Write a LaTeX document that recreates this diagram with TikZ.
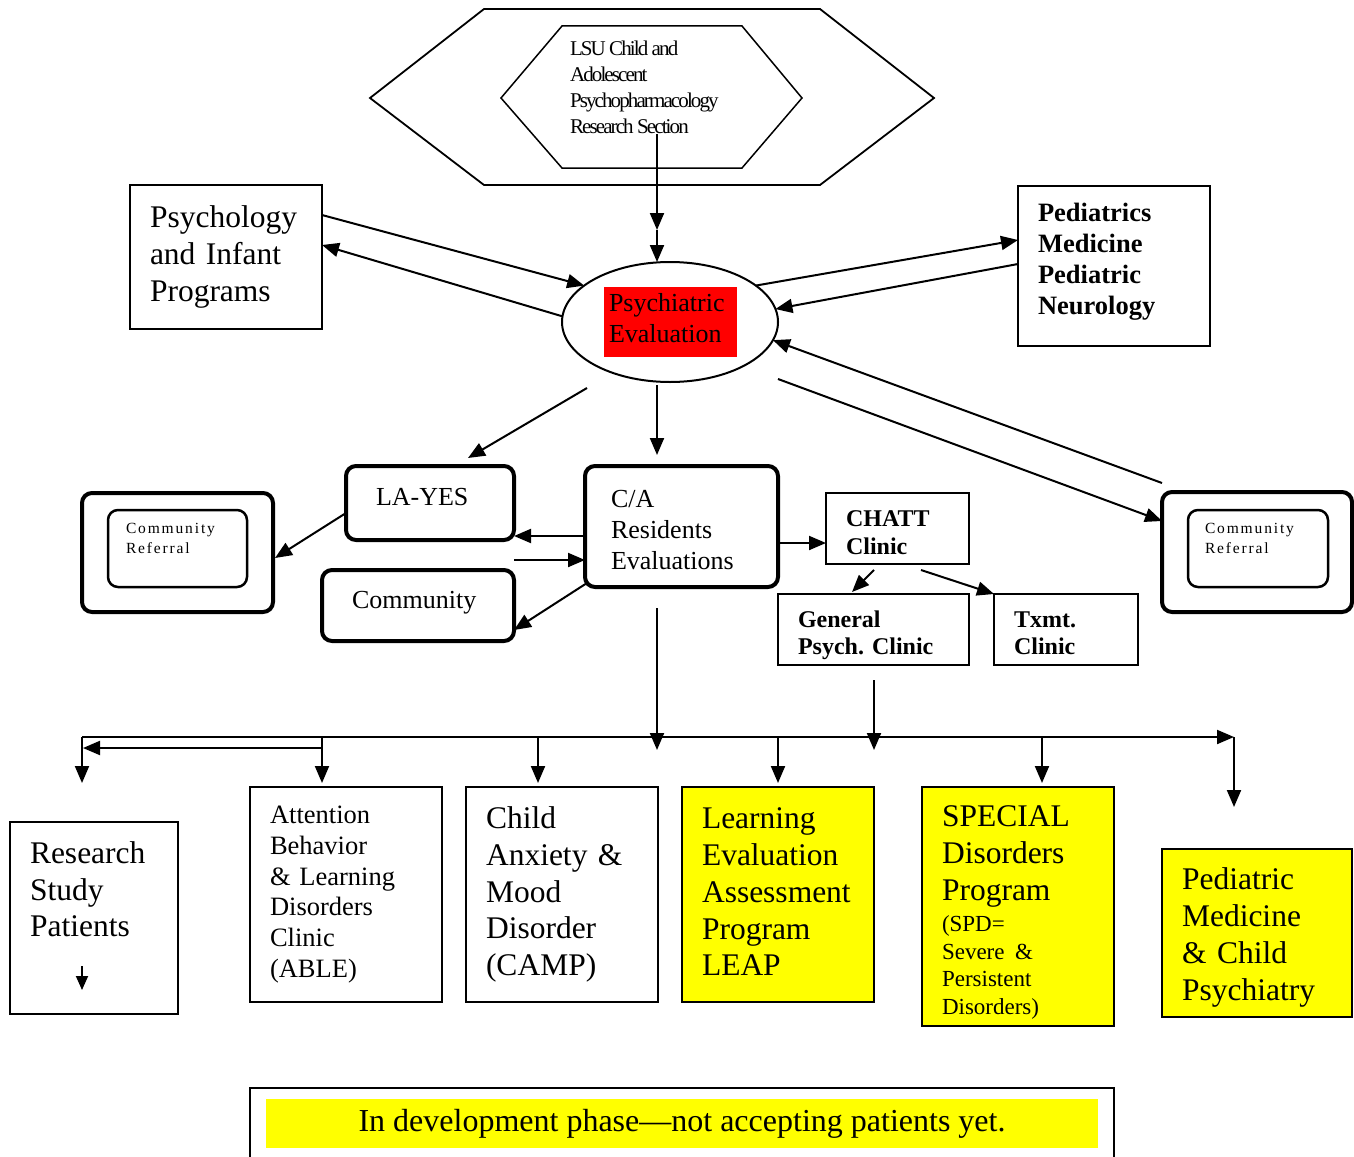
\documentclass[tikz,border=0pt]{standalone}
\usepackage{fontspec}
\setmainfont{Liberation Serif}
\newfontfamily\spacedfont[LetterSpace=12]{Liberation Serif}
\newfontfamily\tightfont[LetterSpace=-9]{Liberation Serif}
\usetikzlibrary{arrows.meta,calc,shapes.geometric}
\newcommand{\fsz}[2]{\fontsize{#1}{#2}\selectfont}
\definecolor{yel}{RGB}{255,255,0}
\definecolor{rd}{RGB}{255,0,0}
\frenchspacing
\begin{document}
\begin{tikzpicture}[x=1pt,y=-1pt,
  every node/.style={outer sep=0pt},
  conn/.style={line width=2pt},
  arr/.style={conn,-{Triangle[length=17pt,width=14pt]}},
  box/.style={draw,line width=2pt,rectangle,align=left,inner ysep=0pt},
  rbox/.style={draw,line width=4pt,rounded corners=10pt,align=left,inner ysep=0pt},
  ibox/.style={draw,line width=2.5pt,rounded corners=10pt,align=left,inner ysep=0pt},
  ybox/.style={box,fill=yel}]
\useasboundingbox (0,0) rectangle (1354,1156);
\fill[white] (0,0) rectangle (1354,1156);

% top hexagons
\draw[line width=1.8pt] (370,98) -- (484,9) -- (820,9) -- (934,98) -- (820,185) -- (484,185) -- cycle;
\draw[line width=1.5pt] (501,98) -- (562,26) -- (742,26) -- (802,98) -- (742,168) -- (562,168) -- cycle;
\node[anchor=north west,inner sep=0pt,align=left,font={\tightfont\fsz{21}{26}}] (lsu) at (570,41)
  {LSU Child and\\Adolescent\\Psychopharmacology\\Research Section};

% psychiatric evaluation
\node[ellipse,draw,line width=2pt,minimum width=216pt,minimum height=120pt,inner sep=0pt] (pe) at (670,322) {};
\node[fill=rd,minimum height=70pt,text width=123pt,inner xsep=5pt,inner ysep=0pt,align=left,text depth=40pt,font={\fsz{26}{31}}] (petext) at (670.5,322)
  {Psychiatric\\Evaluation};

% side boxes
\node[box,text width=152pt,inner xsep=20pt,minimum height=144pt,font={\fsz{31.5}{37}}] (psy) at (226,257)
  {Psychology\\and Infant\\Programs};
\node[box,text width=152pt,inner xsep=20pt,minimum height=160pt,text depth=107.7pt,font={\fsz{26.5}{31}\bfseries}] (ped) at (1114,266)
  {Pediatrics\\Medicine\\Pediatric\\Neurology};

% middle row
\node[rbox,text width=108pt,inner xsep=30pt,minimum height=74pt,text depth=12pt,font={\fsz{26}{31}}] (layes) at (430,503) {LA-YES};
\node[rbox,text width=141pt,inner xsep=26pt,minimum height=121pt,text depth=56pt,font={\fsz{26}{31}}] (ca) at (681.5,526.5)
  {C/A\\Residents\\Evaluations};
\node[rbox,text width=132pt,inner xsep=30pt,minimum height=71pt,text depth=11.6pt,font={\fsz{26}{31}}] (comm) at (418,605.5) {Community};

\node[rbox,minimum width=191pt,minimum height=119pt] (crl) at (177.5,552.5) {};
\node[ibox,text width=103pt,inner xsep=18pt,minimum height=77pt,font={\spacedfont\fsz{15.5}{20}}] (crli) at (177.5,548.5)
  {Community\\Referral\\~};
\node[rbox,minimum width=190pt,minimum height=120pt] (crr) at (1257,552) {};
\node[ibox,text width=106pt,inner xsep=17pt,minimum height=77pt,font={\spacedfont\fsz{15.5}{20}}] (crri) at (1258,548.5)
  {Community\\Referral\\~};

\node[box,text width=103pt,inner xsep=20pt,minimum height=71pt,text depth=20pt,font={\fsz{24}{28}\bfseries}] (chatt) at (897.5,528.5)
  {CHATT\\Clinic};
\node[box,text width=151pt,inner xsep=20pt,minimum height=71pt,text depth=21pt,font={\fsz{24}{27}\bfseries}] (gen) at (873.5,629.5)
  {General\\Psych. Clinic};
\node[box,text width=104pt,inner xsep=20pt,minimum height=71pt,text depth=20pt,font={\fsz{24}{27}\bfseries}] (txmt) at (1066,629.5)
  {Txmt.\\Clinic};

% bottom boxes
\node[box,text width=128pt,inner xsep=20pt,minimum height=192pt,font={\fsz{31.5}{36.5}}] (res) at (94,918)
  {Research\\Study\\Patients\\[21pt]~};
\node[box,text width=152pt,inner xsep=20pt,minimum height=215pt,font={\fsz{26.5}{30.8}}] (able) at (346,894.5)
  {Attention\\Behavior\\\& Learning\\Disorders\\Clinic\\(ABLE)};
\node[box,text width=152pt,inner xsep=20pt,minimum height=215pt,font={\fsz{31.5}{36.75}}] (camp) at (562,894.5)
  {Child\\Anxiety \&\\Mood\\Disorder\\(CAMP)};
\node[ybox,text width=152pt,inner xsep=20pt,minimum height=215pt,text depth=152pt,font={\fsz{31.5}{36.75}}] (leap) at (778,894.5)
  {Learning\\Evaluation\\Assessment\\Program\\LEAP};
\node[ybox,text width=152pt,inner xsep=20pt,minimum height=239pt,font={\fsz{31.5}{36.75}}] (spd) at (1018,906.5)
  {\rule{0pt}{33pt}SPECIAL\\Disorders\\Program\par\vspace{4pt}\fsz{23}{27.5}(SPD=\\Severe \&\\Persistent\\Disorders)\par};
\node[ybox,text width=150pt,inner xsep=20pt,minimum height=168pt,text depth=108pt,font={\fsz{31.5}{36.7}}] (pmc) at (1257,933)
  {Pediatric\\Medicine\\\& Child\\Psychiatry};

% legend
\node[draw,line width=2pt,anchor=north west,minimum width=864pt,minimum height=74pt,inner sep=0pt] (legbox) at (250,1088) {};
\node[fill=yel,minimum width=832pt,minimum height=49pt,inner sep=0pt,font={\fsz{32}{36}}] (leg) at (682,1123.5)
  {In development phase—not accepting patients yet.};

% connectors: top
\coordinate (m1) at (657,230);
\draw[arr] (m1 |- lsu.south) -- (m1);
\draw[arr] (m1) -- (m1 |- pe.north);
\draw[arr] ($(psy.north east)+(0,30)$) -- (pe.157);
\draw[arr] (pe.177) -- ($(psy.north east)+(0,60)$);
\draw[arr] (pe.23) -- ($(ped.north west)+(0,54)$);
\draw[arr] ($(ped.north west)+(0,78)$) -- (pe.7);
\draw[arr] ($(crr.north west)+(0,-9)$) -- (pe.-10);
\draw[arr] ($(pe.east)+(0,57)$) -- ($(crr.north west)+(0,29)$);
\draw[arr] ($(pe.south)+(-83,6)$) -- ($(layes.north west)+(122,-8)$);
\draw[arr] ($(pe.south)+(-13,3)$) -- ($(ca.north west)+(72,-11)$);

% connectors: middle
\draw[arr] ($(layes.west)+(0,10)$) -- ($(crl.east)+(2,5.5)$);
\draw[arr] ($(ca.west)+(0,9.5)$) -- ($(layes.south east)+(0,-4)$);
\draw[arr] ($(comm.north east)+(0,-10)$) -- ($(ca.west)+(0,33.5)$);
\draw[arr] ($(ca.south west)+(2,-4)$) -- ($(comm.south east)+(0,-11)$);
\draw[arr] ($(ca.east)+(0,16.5)$) -- ($(chatt.west)+(0,14.5)$);
\draw[arr] ($(chatt.south west)+(48,6)$) -- ($(gen.north west)+(74,-2)$);
\draw[arr] ($(chatt.south west)+(95,6)$) -- (txmt.north west);

% bus
\coordinate (bl) at (82,737);
\coordinate (br) at (1234,737);
\coordinate (b2) at (322,737);
\coordinate (b2l) at (322,748);
\draw[arr] (bl) -- (br);
\draw[arr] (br) -- ($(pmc.north west)+(72,-42)$);
\draw[arr] (bl) -- ($(res.north west)+(72,-39)$);
\draw[arr] (b2) -- ($(able.north west)+(72,-4)$);
\draw[arr] (b2l) -- ($(b2l -| bl)+(1,0)$);
\draw[arr] ($(camp.north west)+(72,-50)$) -- ($(camp.north west)+(72,-4)$);
\draw[arr] ($(leap.north west)+(96,-50)$) -- ($(leap.north west)+(96,-4)$);
\draw[arr] ($(spd.north west)+(120,-50)$) -- ($(spd.north west)+(120,-4)$);
\draw[arr] ($(ca.south west)+(72,21)$) -- ($(ca.south west)+(72,163)$);
\draw[arr] ($(gen.south west)+(96,15)$) -- ($(gen.south west)+(96,85)$);

% small arrow in research box
\coordinate (ra1) at (82,966);
\coordinate (ra2) at (82,990);
\draw[line width=1.8pt,-{Triangle[length=14pt,width=12pt]}] (ra1) -- (ra2);
\end{tikzpicture}
\end{document}
